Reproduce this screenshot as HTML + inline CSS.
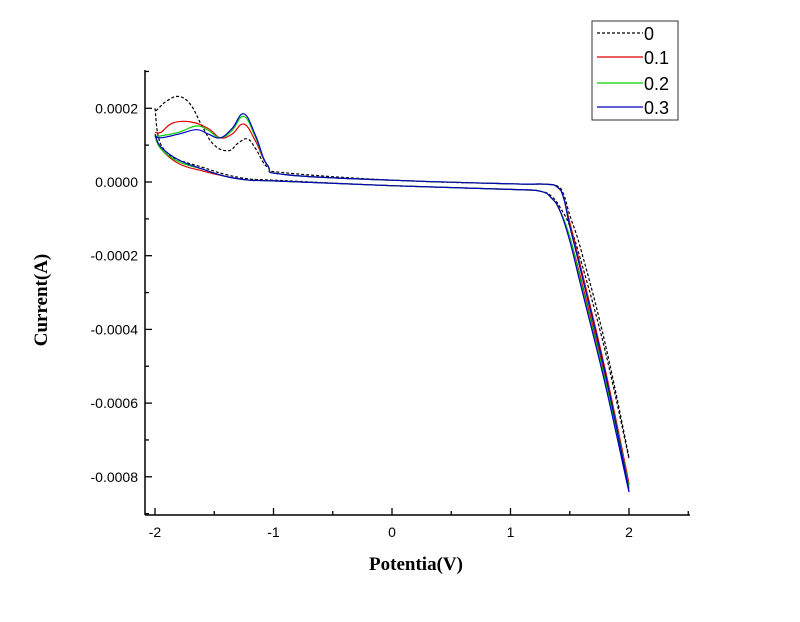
<!DOCTYPE html>
<html><head><meta charset="utf-8"><style>
body{margin:0;background:#fff;width:800px;height:617px;overflow:hidden}
svg text{font-family:"Liberation Sans",Arial,sans-serif}
</style></head><body>
<svg id="chart" width="800" height="617" xmlns="http://www.w3.org/2000/svg">
<g id="axes"></g><g id="series"></g><g id="legend"></g>
<text transform="translate(47,300) rotate(-90)" text-anchor="middle" style="font-family:'Liberation Serif',serif;font-weight:bold;font-size:19px">Current(A)</text>
<text x="416" y="570" text-anchor="middle" style="font-family:'Liberation Serif',serif;font-weight:bold;font-size:19px">Potentia(V)</text>
</svg>
<script>
const xTicks=[-2,-1,0,1,2];
const xTickLabels=["-2","-1","0","1","2"];
const yTicks=[2,0,-2,-4,-6,-8];
const yTickLabels=["0.0002","0.0000","-0.0002","-0.0004","-0.0006","-0.0008"];
const seriesNames=["0","0.1","0.2","0.3"];
const seriesColors=["#000","#e00000","#00d000","#0000c0"];
// values: [potential V, current ×1e-4 A]
const s0=[[-2,2.0],[-1.97,1.2],[-1.9,0.8],[-1.8,0.6],[-1.6,0.4],[-1.4,0.2],[-1.2,0.08],[-1,0.05],[0,-0.1],[1,-0.2],[1.25,-0.25],[1.35,-0.4],[1.42,-0.7],[1.5,-1.2],[1.6,-2.2],[1.8,-4.6],[2,-7.5],[1.8,-4.4],[1.6,-1.9],[1.5,-0.9],[1.45,-0.35],[1.4,-0.12],[1.3,-0.06],[1,-0.05],[0,0.05],[-0.9,0.25],[-1.05,0.4],[-1.15,0.9],[-1.22,1.17],[-1.3,1.05],[-1.38,0.85],[-1.5,1.0],[-1.6,1.5],[-1.7,2.1],[-1.8,2.32],[-1.9,2.2],[-1.97,2.0],[-2,1.9]];
const s1=[[-2,1.3],[-1.95,0.9],[-1.8,0.5],[-1.6,0.3],[-1.4,0.15],[-1.2,0.05],[-1,0.03],[0,-0.1],[1,-0.2],[1.25,-0.25],[1.35,-0.45],[1.42,-0.8],[1.5,-1.5],[1.6,-2.7],[1.8,-5.3],[2,-8.2],[1.8,-5.1],[1.6,-2.4],[1.5,-1.1],[1.45,-0.45],[1.4,-0.15],[1.3,-0.06],[1,-0.05],[0,0.05],[-0.9,0.2],[-1.05,0.45],[-1.15,1.1],[-1.25,1.57],[-1.35,1.3],[-1.45,1.2],[-1.55,1.45],[-1.7,1.63],[-1.85,1.6],[-1.95,1.35],[-2,1.35]];
const s2=[[-2,1.25],[-1.95,0.9],[-1.8,0.55],[-1.6,0.35],[-1.4,0.15],[-1.2,0.05],[-1,0.03],[0,-0.1],[1,-0.2],[1.25,-0.25],[1.35,-0.45],[1.42,-0.8],[1.5,-1.5],[1.6,-2.8],[1.8,-5.4],[2,-8.3],[1.8,-5.2],[1.6,-2.5],[1.5,-1.2],[1.45,-0.45],[1.4,-0.15],[1.3,-0.06],[1,-0.05],[0,0.05],[-0.9,0.2],[-1.05,0.45],[-1.15,1.2],[-1.25,1.78],[-1.35,1.4],[-1.45,1.2],[-1.55,1.4],[-1.65,1.52],[-1.8,1.35],[-1.95,1.25],[-2,1.25]];
const s3=[[-2,1.3],[-1.95,0.95],[-1.8,0.6],[-1.6,0.35],[-1.4,0.15],[-1.2,0.05],[-1,0.03],[0,-0.1],[1,-0.2],[1.25,-0.25],[1.35,-0.45],[1.42,-0.8],[1.5,-1.6],[1.6,-2.9],[1.8,-5.5],[2,-8.4],[1.8,-5.2],[1.6,-2.5],[1.5,-1.2],[1.45,-0.45],[1.4,-0.15],[1.3,-0.06],[1,-0.05],[0,0.05],[-0.9,0.2],[-1.05,0.45],[-1.15,1.25],[-1.25,1.85],[-1.35,1.45],[-1.45,1.2],[-1.55,1.3],[-1.65,1.42],[-1.8,1.3],[-1.95,1.2],[-2,1.25]];
const allSeries=[s0,s1,s2,s3];
const NS="http://www.w3.org/2000/svg";
function xS(v){return 392+(v)*118.5;}
function yS(v){return 182-v*36.85;}
function mk(tag,at,parent){const e=document.createElementNS(NS,tag);for(const k in at)e.setAttribute(k,at[k]);parent.appendChild(e);return e;}
function smooth(pts){let d='M'+pts[0][0].toFixed(1)+','+pts[0][1].toFixed(1);
 for(let i=0;i<pts.length-1;i++){const p0=pts[Math.max(0,i-1)],p1=pts[i],p2=pts[i+1],p3=pts[Math.min(pts.length-1,i+2)];
  const t=0.4/2;
  const c1=[p1[0]+(p2[0]-p0[0])*t,p1[1]+(p2[1]-p0[1])*t],c2=[p2[0]-(p3[0]-p1[0])*t,p2[1]-(p3[1]-p1[1])*t];
  d+='C'+c1[0].toFixed(1)+','+c1[1].toFixed(1)+' '+c2[0].toFixed(1)+','+c2[1].toFixed(1)+' '+p2[0].toFixed(1)+','+p2[1].toFixed(1);}
 return d;}
const ax=document.getElementById('axes');
let a=mk('line',{x1:145,y1:70,x2:145,y2:515,stroke:'#000','stroke-width':1.5},ax);


a=mk('line',{x1:145,y1:515,x2:690,y2:515,stroke:'#000','stroke-width':1.5},ax);


for(let i=0;i<xTicks.length;i++){const x=xS(xTicks[i]);
 mk('line',{x1:x,y1:515,x2:x,y2:508,stroke:'#000','stroke-width':1.3},ax);
 const t=mk('text',{x:x,y:537,'text-anchor':'middle','font-size':14},ax);t.textContent=xTickLabels[i];
 
 }
for(let v=-1.5;v<=2.6;v+=1){const x=xS(v);mk('line',{x1:x,y1:515,x2:x,y2:511,stroke:'#000','stroke-width':1.3},ax);}
for(let i=0;i<yTicks.length;i++){const y=yS(yTicks[i]);
 mk('line',{x1:145,y1:y,x2:152,y2:y,stroke:'#000','stroke-width':1.3},ax);
 const t=mk('text',{x:138,y:y+5,'text-anchor':'end','font-size':14},ax);t.textContent=yTickLabels[i];
 
 }
for(let v=-9;v<=3;v+=2){const y=yS(v);if(y>70&&y<515)mk('line',{x1:145,y1:y,x2:149,y2:y,stroke:'#000','stroke-width':1.3},ax);}
const sg=document.getElementById('series');
allSeries.forEach((s,i)=>{const d=smooth(s.map(p=>[xS(p[0]),yS(p[1])]));
 const p=mk('path',{d:d,fill:'none',stroke:seriesColors[i],'stroke-width':1.2,'stroke-linejoin':'round'},sg);
 if(i==0)p.setAttribute('stroke-dasharray','3,2');
 
 });
const lg=document.getElementById('legend');
const box=mk('rect',{x:592,y:21,width:86,height:99,fill:'#fff',stroke:'#333','stroke-width':1},lg);


const ly=[33,57,83,107];
seriesNames.forEach((n,i)=>{const l=mk('line',{x1:597,y1:ly[i],x2:643,y2:ly[i],stroke:seriesColors[i],'stroke-width':1.2},lg);
 if(i==0)l.setAttribute('stroke-dasharray','3,2');
 const t=mk('text',{x:644,y:ly[i]+7,'font-size':18},lg);t.textContent=n;
 
 });
</script>
</body></html>
